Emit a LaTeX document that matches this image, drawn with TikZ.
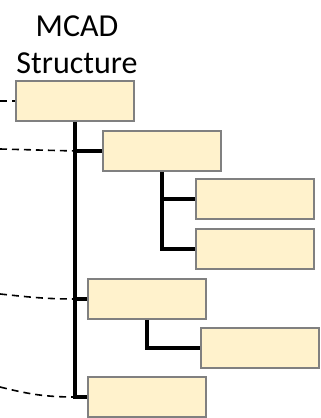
\documentclass[tikz,border=0pt]{standalone}
\usepackage{fontspec}
\usepackage{tikz}
\setmainfont{Carlito}
\definecolor{partfill}{RGB}{255, 242, 204}
\definecolor{partborder}{RGB}{128, 128, 128}
\definecolor{linkblack}{RGB}{0, 0, 0}

\begin{document}
\begin{tikzpicture}[x=1pt, y=1pt,
		part/.style={rectangle, fill=partfill, draw=partborder, line width=2pt, minimum width=118pt, minimum height=40pt, inner sep=0pt},
		link/.style={linkblack, line width=4pt},
		dashlink/.style={linkblack, line width=1.6pt, dash pattern=on 7pt off 5pt}]
	\useasboundingbox (0,0) rectangle (321,418);
	\node[anchor=base, align=center, font=\fontsize{32}{37}\selectfont] (title) at (77,344) {MCAD\\Structure};
	\node[part] (b1) at (75,317) {};
	\node[part] (b2) at (162,267) {};
	\node[part] (b3) at (255,218.5) {};
	\node[part] (b4) at (255,169) {};
	\node[part] (b5) at (147,119) {};
	\node[part] (b6) at (260,70) {};
	\node[part] (b7) at (147,21) {};
	\coordinate (j2) at (b1.south |- b2.west);
	\coordinate (j5) at (b1.south |- b5.west);
	\coordinate (j7) at (b1.south |- b7.west);
	\draw[link] (b1.south) |- (b7.west);
	\draw[link] (j2) -- (b2.west);
	\draw[link] (j5) -- (b5.west);
	\draw[link] (b2.south) |- (b4.west);
	\draw[link] (b2.south |- b3.west) -- (b3.west);
	\draw[link] (b5.south) |- (b6.west);
	\coordinate (e1) at (0,317);
	\coordinate (e2) at (0,269);
	\coordinate (e5) at (0,124);
	\coordinate (e7) at (0,31);
	\draw[dashlink] (e1) -- (b1.west);
	\draw[dashlink] (e2) -- (j2);
	\draw[dashlink] (e5) to[out=-6, in=180] (j5);
	\draw[dashlink] (e7) to[out=-14, in=180] (j7);
\end{tikzpicture}
\end{document}
